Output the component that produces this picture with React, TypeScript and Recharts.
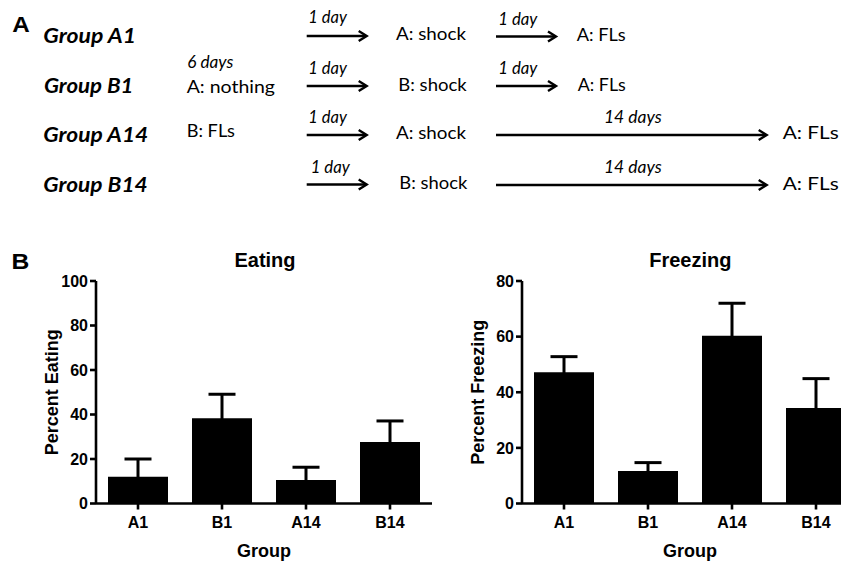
import React from 'react';
import { BarChart, Bar, XAxis, YAxis, ErrorBar, Label } from 'recharts';

// ---- data ----
const groups = ['A1', 'B1', 'A14', 'B14'];
const eatingMean = [12.0, 38.3, 10.6, 27.6];
const eatingSem = [8.0, 10.8, 5.7, 9.5];
const freezingMean = [47.2, 11.7, 60.3, 34.3];
const freezingSem = [5.6, 3.0, 11.7, 10.6];
const eatingTicks = [0, 20, 40, 60, 80, 100];
const freezingTicks = [0, 20, 40, 60, 80];

const eatingData = groups.map((g, i) => ({ group: g, mean: eatingMean[i], sem: eatingSem[i] }));
const freezingData = groups.map((g, i) => ({ group: g, mean: freezingMean[i], sem: freezingSem[i] }));

const AX = '"Liberation Sans", Arial, Helvetica, sans-serif';
const CAL = 'Lato, "Open Sans", "Noto Sans", sans-serif';

function Panel(props: { data: any[]; ticks: number[]; max: number; yLabel: string; left: number }) {
  const { data, ticks, max, yLabel, left } = props;
  const tickStyle = { fill: '#000', fontSize: 16, fontWeight: 'bold' as const, fontFamily: AX };
  return (
    <div style={{ position: 'absolute', left, top: 250 }}>
      <BarChart width={440} height={311} data={data} margin={{ top: 31, right: 8, bottom: 4.5, left: 8 }}>
        <XAxis
          dataKey="group"
          interval={0}
          height={53}
          tickSize={6}
          tickMargin={7}
          axisLine={{ stroke: '#000', strokeWidth: 2.6 }}
          tickLine={{ stroke: '#000', strokeWidth: 2.6 }}
          tick={tickStyle}
        >
          <Label value="Group" position="insideBottom" offset={0} fill="#000" fontSize={18} fontWeight="bold" fontFamily={AX} />
        </XAxis>
        <YAxis
          type="number"
          domain={[0, max]}
          ticks={ticks}
          interval={0}
          width={88}
          tickSize={6}
          tickMargin={2}
          axisLine={{ stroke: '#000', strokeWidth: 2.6 }}
          tickLine={{ stroke: '#000', strokeWidth: 2.6 }}
          tick={tickStyle}
        >
          <Label value={yLabel} angle={-90} position="center" fill="#000" fontSize={18} fontWeight="bold" fontFamily={AX} />
        </YAxis>
        <Bar dataKey="mean" fill="#000" barSize={60} isAnimationActive={false}>
          <ErrorBar dataKey="sem" direction="y" width={13.5} stroke="#000" strokeWidth={3} />
        </Bar>
      </BarChart>
    </div>
  );
}

function Arrow(props: { x1: number; x2: number; y: number }) {
  const { x1, x2, y } = props;
  return (
    <g stroke="#000" strokeWidth={2.4} fill="none" strokeLinecap="butt">
      <line x1={x1} y1={y} x2={x2 - 1} y2={y} />
      <polyline points={`${x2 - 8},${y - 5} ${x2},${y} ${x2 - 8},${y + 5}`} strokeLinejoin="miter" />
    </g>
  );
}

function T(props: { x: number; y: number; len: number; text: string; size?: number; bold?: boolean; italic?: boolean }) {
  const { x, y, len, text, size = 18, bold = false, italic = false } = props;
  return (
    <text
      x={x}
      y={y}
      textLength={len}
      lengthAdjust="spacingAndGlyphs"
      fontFamily={CAL}
      fontSize={size}
      fontWeight={bold ? 'bold' : 'normal'}
      fontStyle={italic ? 'italic' : 'normal'}
      fill="#000"
    >
      {text}
    </text>
  );
}

export default function App() {
  return (
    <div style={{ position: 'absolute', left: 0, top: 0, width: 841, height: 561, overflow: 'hidden', background: '#fff' }}>
      <svg width={841} height={561} style={{ position: 'absolute', left: 0, top: 0 }}>
        {/* Panel labels */}
        <text x={12.3} y={32} textLength={17.5} lengthAdjust="spacingAndGlyphs" fontFamily={AX} fontWeight="bold" fontSize={22} fill="#000">A</text>
        <text x={11.5} y={268.5} textLength={17.8} lengthAdjust="spacingAndGlyphs" fontFamily={AX} fontWeight="bold" fontSize={22} fill="#000">B</text>

        {/* Group names */}
        <T x={43.3} y={42.7} len={92.7} text="Group A1" size={20} bold italic />
        <T x={44} y={93.3} len={89.5} text="Group B1" size={20} bold italic />
        <T x={43.3} y={141.7} len={105} text="Group A14" size={20} bold italic />
        <T x={43.3} y={191.7} len={104.4} text="Group B14" size={20} bold italic />

        {/* pre-exposure */}
        <T x={187.3} y={68.3} len={46} text="6 days" italic />
        <T x={186.7} y={93.3} len={88.3} text="A: nothing" />
        <T x={186.7} y={137.3} len={48.3} text="B: FLs" />

        {/* first arrows */}
        <T x={308.3} y={23.3} len={38.5} text="1 day" italic />
        <Arrow x1={306.7} x2={366.7} y={36} />
        <T x={308.3} y={74} len={38.5} text="1 day" italic />
        <Arrow x1={306.7} x2={366.7} y={86} />
        <T x={308.3} y={123.3} len={38.5} text="1 day" italic />
        <Arrow x1={306.7} x2={366.7} y={135} />
        <T x={310.7} y={173.3} len={39} text="1 day" italic />
        <Arrow x1={306.7} x2={366.7} y={184.5} />

        {/* shock */}
        <T x={396} y={40} len={70} text="A: shock" />
        <T x={398.3} y={90.7} len={68.4} text="B: shock" />
        <T x={396} y={139.3} len={70} text="A: shock" />
        <T x={399.3} y={189.3} len={68} text="B: shock" />

        {/* second arrows */}
        <T x={498.3} y={24.5} len={39} text="1 day" italic />
        <Arrow x1={496} x2={556} y={36.5} />
        <T x={498.3} y={74} len={39} text="1 day" italic />
        <Arrow x1={496} x2={556} y={86} />
        <T x={604} y={123.3} len={57.7} text="14 days" italic />
        <Arrow x1={496} x2={766.7} y={135} />
        <T x={604} y={173.3} len={57.7} text="14 days" italic />
        <Arrow x1={496} x2={766.7} y={185} />

        {/* tests */}
        <T x={576.7} y={40.7} len={49} text="A: FLs" />
        <T x={577.7} y={90.7} len={48} text="A: FLs" />
        <T x={782.7} y={139.3} len={56} text="A: FLs" />
        <T x={782.7} y={190} len={56} text="A: FLs" />

        {/* chart titles */}
        <text x={265} y={267.3} textAnchor="middle" fontFamily={AX} fontWeight="bold" fontSize={20} fill="#000">Eating</text>
        <text x={690.3} y={267.3} textAnchor="middle" fontFamily={AX} fontWeight="bold" fontSize={20} fill="#000">Freezing</text>
      </svg>
      <Panel data={eatingData} ticks={eatingTicks} max={100} yLabel="Percent Eating" left={0} />
      <Panel data={freezingData} ticks={freezingTicks} max={80} yLabel="Percent Freezing" left={426} />
    </div>
  );
}
